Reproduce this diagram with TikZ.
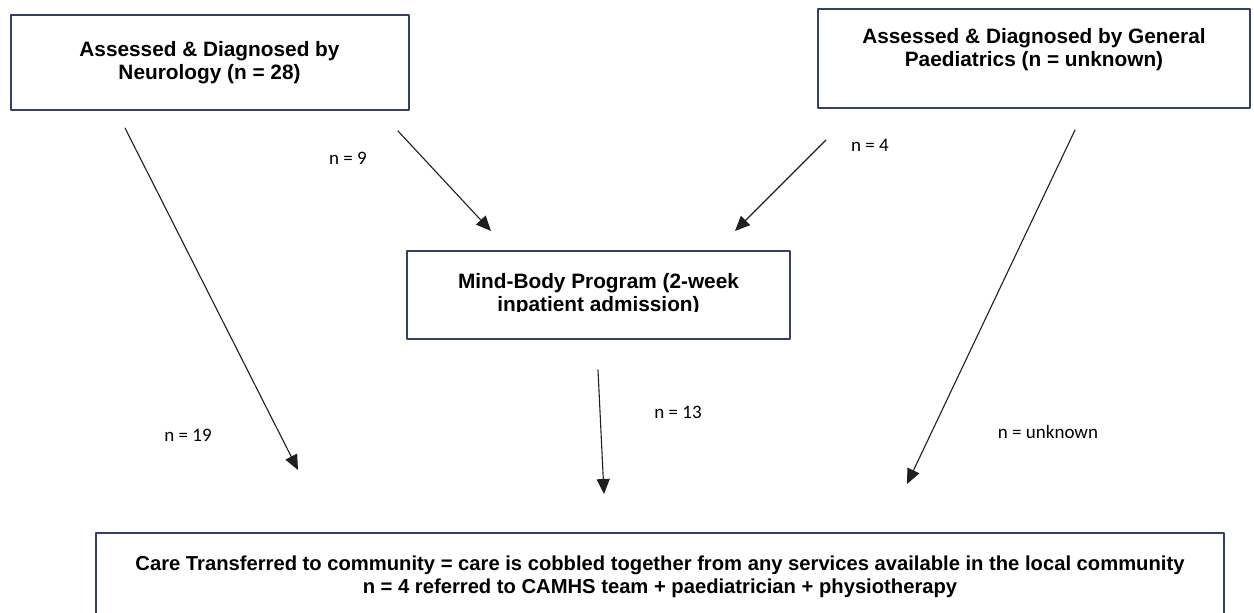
\documentclass[tikz,border=0pt]{standalone}
\usepackage{fontspec}
\setmainfont{Liberation Sans}
\newfontfamily\lblfont{Carlito}
\usetikzlibrary{arrows.meta}
\definecolor{cadre}{RGB}{52,64,102}

\tikzset{
  boite/.style={draw=cadre,line width=1pt,fill=white,align=center,inner sep=0pt,
    font=\bfseries\fontsize{10.4}{11.5}\selectfont},
  effectif/.style={font=\lblfont\fontsize{9.5}{11}\selectfont},
  fleche/.style={->,line width=0.55pt,color=black!88}
}

\begin{document}
\begin{tikzpicture}[line cap=round,line join=round,>={Triangle[length=7.5pt,width=6.5pt]},x=0.5pt,y=-0.5pt]
		\useasboundingbox (0,0) rectangle (1254,612);
		% Etage 1
		\node[boite,minimum width=199pt,minimum height=47.5pt] (neuro) at (209.5,62.5) {Assessed \& Diagnosed by\\Neurology (n = 28)};
		\node[boite,minimum width=216pt,minimum height=49.5pt] (paed) at (1034,58.5) {Assessed \& Diagnosed by General\\Paediatrics (n = unknown)\\\mbox{}};
		% Etage 2
		\node[boite,minimum width=191.5pt,minimum height=44pt] (mb) at (598.5,295) {};
		\begin{scope}
			\clip (410,254) rectangle (787,311);
			\node[boite,draw=none,fill=none] (mbtxt) at (mb) {Mind-Body Program (2-week\\inpatient admission)};
		\end{scope}
		% Etage 3
		\node[boite,minimum width=564pt,minimum height=43.5pt,font=\bfseries\fontsize{10.1}{11.5}\selectfont] (care) at (660,576.5) {Care Transferred to community = care is cobbled together from any services available in the local community\\n = 4 referred to CAMHS team + paediatrician + physiotherapy};
		% depart et arrivee des fleches
		\coordinate (d19) at (125,128);   \coordinate (a19) at (298,470);
		\coordinate (d9)  at (398,131);   \coordinate (a9)  at (491,231);
		\coordinate (d4)  at (826,140);   \coordinate (a4)  at (735,231);
		\coordinate (dU)  at (1075,130);  \coordinate (aU)  at (907,484);
		\coordinate (d13) at (598,370);   \coordinate (a13) at (604,494);
		\draw[fleche] (d19)--(a19);
		\draw[fleche] (d9)--(a9);
		\draw[fleche] (d4)--(a4);
		\draw[fleche] (dU)--(aU);
		\draw[fleche] (d13)--(a13);
		% effectifs
		\node[effectif] (l9) at (348,158) {n = 9};
		\node[effectif] (l4) at (870,145) {n = 4};
		\node[effectif] (l13) at (678,412) {n = 13};
		\node[effectif] (l19) at (188,435) {n = 19};
		\node[effectif] (lU) at (1048,432) {n = unknown};
\end{tikzpicture}
\end{document}
